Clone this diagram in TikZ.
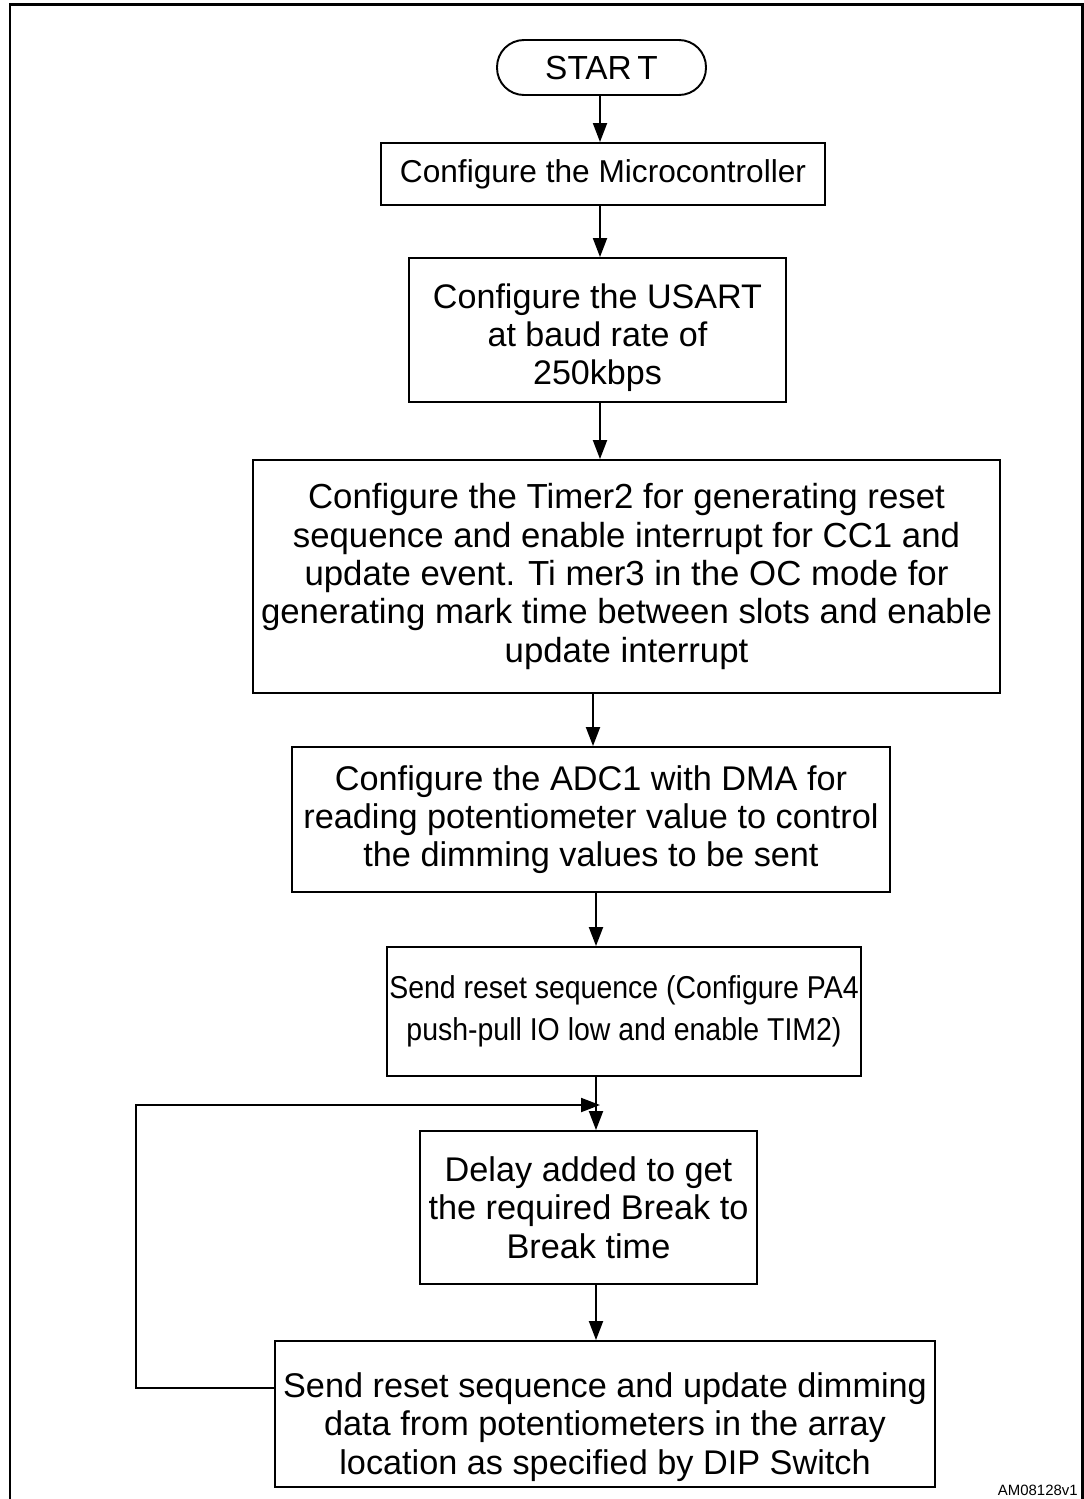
\documentclass[tikz,border=0pt]{standalone}
\usepackage{fontspec}
\setmainfont{Liberation Sans}
\newfontfamily\narrowsans[FakeStretch=0.9]{Liberation Sans}
\usepackage{tikz}
\usetikzlibrary{arrows.meta}
\tikzset{
    startnode/.style={
        rectangle,
        rounded corners=0.54cm, % 两端为圆弧
        draw,
        line width=1.1pt,
        inner sep=0,
        font=\fontsize{19}{22}\selectfont
    },
    boxnode/.style={
        rectangle,
        draw,
        line width=1.1pt,
        inner sep=0,
        align=center,
        font=\fontsize{19.5}{21.8}\selectfont
    },
    arr/.style={
        line width=1.1pt,
        -{Triangle[length=0.38cm,width=0.28cm]}
    }
}

\begin{document}
\begin{tikzpicture}[x=0.02cm, y=-0.02cm]
            \useasboundingbox (0,0) rectangle (1084,1499);
            % 外框
            \draw[line width=1.7pt] (10,1499) -- (10,4) -- (1082,4) -- (1082,1499);
            % 流程框
            \node[startnode, minimum width=4.18cm, minimum height=1.10cm] (start) at (601.5,67.5) {STAR\,T};
            \node[boxnode, minimum width=8.88cm, minimum height=1.24cm,
                  font=\fontsize{18}{21.8}\selectfont] (mcu) at (603,174) {Configure the Microcontroller};
            \node[boxnode, minimum width=7.54cm, minimum height=2.88cm,
                  font=\fontsize{19.4}{21.8}\selectfont] (usart) at (597.5,330)
                {\rule{0pt}{23pt}Configure the USART\\ at baud rate of\\ 250kbps};
            \node[boxnode, minimum width=14.94cm, minimum height=4.66cm,
                  font=\fontsize{19.8}{21.8}\selectfont] (timer) at (626.5,576.5)
                {Configure the Timer2 for generating reset\\
                 sequence and enable interrupt for CC1 and\\
                 update event. Ti mer3 in the OC mode for\\
                 generating mark time between slots and enable\\
                 update interrupt};
            \node[boxnode, minimum width=11.96cm, minimum height=2.90cm] (adc) at (591,819.5)
                {Configure the ADC1 with DMA for\\
                 reading potentiometer value to control\\
                 the dimming values to be sent};
            \node[boxnode, minimum width=9.48cm, minimum height=2.58cm,
                  font=\narrowsans\fontsize{18}{24}\selectfont] (reset) at (624,1011.5)
                {Send reset sequence (Configure PA4\\
                 push-pull IO low and enable TIM2)};
            \node[boxnode, minimum width=6.74cm, minimum height=3.06cm] (delay) at (588.5,1207.5)
                {Delay added to get\\
                 the required Break to\\
                 Break time};
            \node[boxnode, minimum width=13.2cm, minimum height=2.92cm] (update) at (605,1414)
                {\rule{0pt}{29pt}Send reset sequence and update dimming\\
                 data from potentiometers in the array\\
                 location as specified by DIP Switch};
            \node[anchor=south east, inner sep=0, font=\fontsize{8.5}{10}\selectfont] (figid) at (1078,1496) {AM08128v1};
            % 箭头所在的竖线
            \coordinate (axisA) at (600,0);
            \coordinate (axisB) at (593,0);
            \coordinate (axisC) at (596,0);
            \draw[arr] (start.south -| axisA) -- (mcu.north -| axisA);
            \draw[arr] (mcu.south -| axisA) -- (usart.north -| axisA);
            \draw[arr] (usart.south -| axisA) -- (timer.north -| axisA);
            \draw[arr] (timer.south -| axisB) -- (adc.north -| axisB);
            \draw[arr] (adc.south -| axisC) -- (reset.north -| axisC);
            \draw[arr] (reset.south -| axisC) -- (delay.north -| axisC);
            \draw[arr] (delay.south -| axisC) -- (update.north -| axisC);
            % 回环
            \coordinate (looptap) at (update.west |- 0,1388);
            \coordinate (loopend) at (600,1105);
            \draw[arr] (looptap) -- (136,1388) |- (loopend);
\end{tikzpicture}
\end{document}
